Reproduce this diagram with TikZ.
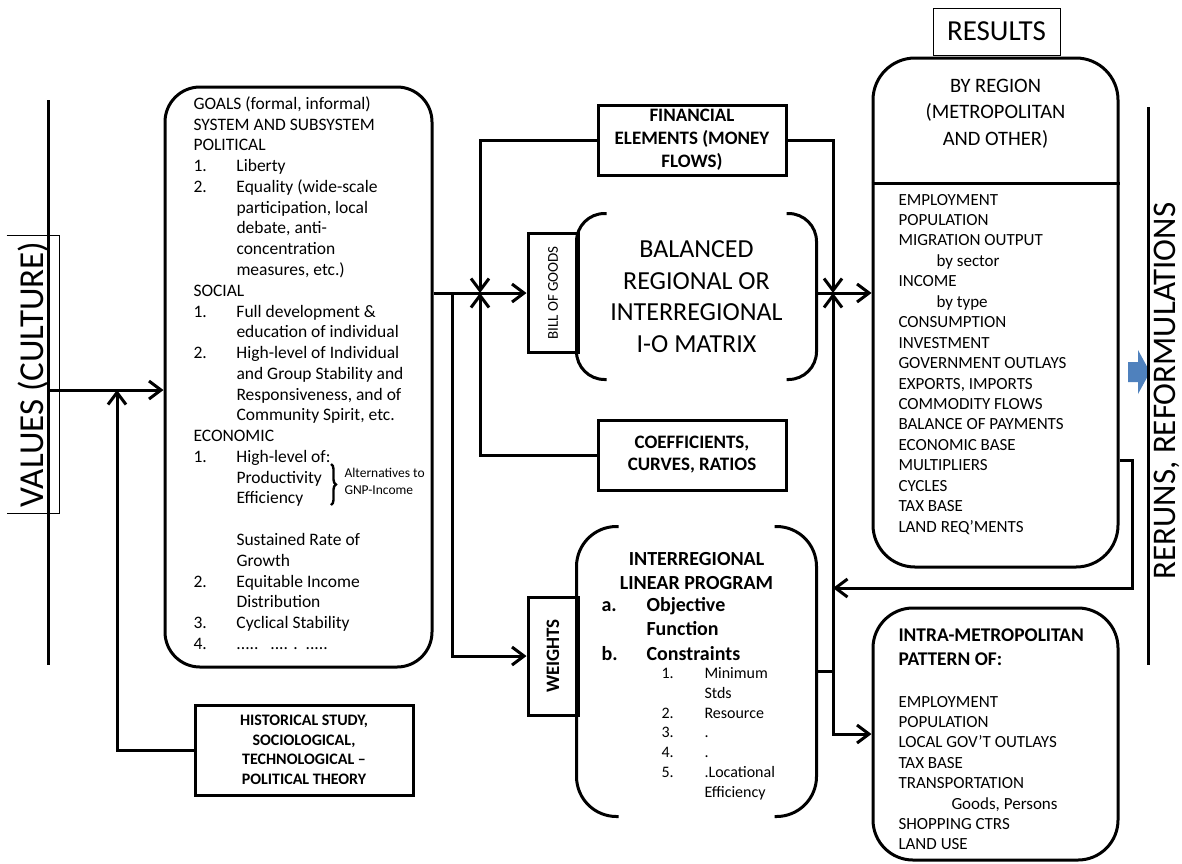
\documentclass[tikz,border=0pt]{standalone}
\usepackage{fontspec}
\setmainfont{Carlito}
\usetikzlibrary{arrows.meta,positioning,calc,decorations.pathreplacing}
\definecolor{rerunblue}{RGB}{79,129,189}
\newcommand{\fsz}[2]{\fontsize{#1}{#2}\selectfont}
\newcommand{\gitem}[2]{\makebox[43pt][l]{#1}#2}
\newcommand{\gind}{\hspace*{43pt}}
\newcommand{\litem}[2]{\makebox[45pt][l]{#1}#2}
\newcommand{\citem}[2]{\makebox[43pt][l]{#1}#2}

\begin{document}
\begin{tikzpicture}[>={Straight Barb[length=12pt,width=18pt]}, x=1pt, y=-1pt, line width=3pt]

    \tikzstyle{flowbox}=[draw, rectangle, inner sep=0pt, align=center]
    \tikzstyle{roundbox}=[flowbox, rounded corners=35pt]
    \tikzstyle{thinbox}=[draw, line width=0.8pt, inner sep=0pt]
    \tikzstyle{txtblock}=[inner sep=0pt, align=left, anchor=north west]

    \useasboundingbox (0,0) rectangle (1182,863);

    % left side: values and goals
    \coordinate (ltop) at (48,100);
    \coordinate (lbot) at (48,665);
    \coordinate (vin)  at (48,390);
    \coordinate (hin)  at (117,390);
    \draw (ltop) -- (lbot);
    \node[inner sep=0pt, minimum width=50, minimum height=275, font=\fsz{35}{40}] (values) at (33,374.5) {\rotatebox{90}{VALUES (CULTURE)}};
    \draw[line width=0.8pt] (values.north west) -- (values.north east) -- (values.south east) -- (values.south west);

    \node[roundbox, minimum width=267, minimum height=580] (goals) at (298.5,377) {};
    \node[txtblock, font=\fsz{17.5}{20.77}] (goalstxt) at (192,95) {GOALS (formal, informal)\\
        SYSTEM AND SUBSYSTEM\\
        POLITICAL\\
        \gitem{1.}{Liberty}\\
        \gitem{2.}{Equality (wide-scale}\\
        \gind participation, local\\
        \gind debate, anti-\\
        \gind concentration\\
        \gind measures, etc.)\\
        SOCIAL\\
        \gitem{1.}{Full development \&}\\
        \gind education of individual\\
        \gitem{2.}{High-level of Individual}\\
        \gind and Group Stability and\\
        \gind Responsiveness, and of\\
        \gind Community Spirit, etc.\\
        ECONOMIC\\
        \gitem{1.}{High-level of:}\\
        \gind Productivity\\
        \gind Efficiency\\
        \mbox{}\\
        \gind Sustained Rate of\\
        \gind Growth\\
        \gitem{2.}{Equitable Income}\\
        \gind Distribution\\
        \gitem{3.}{Cyclical Stability}\\
        \gitem{4.}{.....\ \ \ .... .\ \ .....}};
    \draw[decorate, decoration={brace, amplitude=5pt}, line width=2.4pt] (331,464) -- (331,505);
    \node[txtblock, anchor=west, font=\fsz{13.5}{17}] (alt) at (343,481.5) {Alternatives to\\GNP-Income};

    \node[flowbox, minimum width=218, minimum height=90, font=\bfseries\fsz{16}{19.5}] (hist) at (304,750) {HISTORICAL STUDY,\\SOCIOLOGICAL,\\TECHNOLOGICAL --\\POLITICAL THEORY};

    % middle column
    \node[flowbox, rotate=90, minimum width=119, minimum height=50, font=\fsz{15}{18}] (bill) at (553,293) {BILL OF GOODS};
    \node[flowbox, rotate=90, minimum width=118, minimum height=50, font=\bfseries\fsz{19}{23}] (weights) at (553,656) {WEIGHTS};
    \node[flowbox, minimum width=188, minimum height=70, font=\bfseries\fsz{19}{23}] (fin) at (692,140) {FINANCIAL\\ELEMENTS (MONEY\\FLOWS)};
    \node[flowbox, minimum width=188, minimum height=70, font=\bfseries\fsz{19}{22}] (coef) at (692,455) {COEFFICIENTS,\\CURVES, RATIOS};

    \node[inner sep=0pt, minimum width=237, minimum height=163, align=center, font=\fsz{26}{31.5}] (io) at (696.5,296.5) {BALANCED\\REGIONAL OR\\INTERREGIONAL\\I-O MATRIX};
    \draw[rounded corners=28pt] ([xshift=30pt]io.north west) -- (io.north west) -- (io.south west) -- ([xshift=30pt]io.south west);
    \draw[rounded corners=28pt] ([xshift=-30pt]io.north east) -- (io.north east) -- (io.south east) -- ([xshift=-30pt]io.south east);

    \node[inner sep=0pt, minimum width=237, minimum height=287] (lp) at (696.5,671.5) {};
    \draw[rounded corners=40pt] ([xshift=42pt]lp.north west) -- (lp.north west) -- (lp.south west) -- ([xshift=42pt]lp.south west);
    \draw[rounded corners=40pt] ([xshift=-42pt]lp.north east) -- (lp.north east) -- (lp.south east) -- ([xshift=-42pt]lp.south east);
    \node[inner sep=0pt, align=center, anchor=north, font=\bfseries\fsz{20}{24}] (lptitle) at (696.5,550.5) {INTERREGIONAL\\LINEAR PROGRAM};
    \node[txtblock, font=\bfseries\fsz{20}{24.5}] (lpobj) at (600,595.5) {\litem{a.}{Objective}\\\hspace*{45pt}Function\\\litem{b.}{Constraints}};
    \node[txtblock, font=\fsz{16}{19.8}] (lpcons) at (660,666) {\citem{1.}{Minimum}\\\hspace*{43pt}Stds\\\citem{2.}{Resource}\\\citem{3.}{.}\\\citem{4.}{.}\\\citem{5.}{.Locational}\\\hspace*{43pt}Efficiency};

    % right side: results
    \node[thinbox, minimum width=127, minimum height=47, font=\fsz{29}{35}] (reslabel) at (996.5,31.5) {RESULTS};
    \node[flowbox, rounded corners=42pt, minimum width=245, minimum height=509] (results) at (995.5,312.5) {};
    \draw (results.west |- 0,183) -- (results.east |- 0,183);
    \node[inner sep=0pt, align=center, font=\fsz{20.5}{26.5}] (byregion) at (995.5,113.5) {BY REGION\\(METROPOLITAN\\AND OTHER)};
    \node[txtblock, font=\fsz{17}{20.45}] (reslist) at (897,192.5) {EMPLOYMENT\\POPULATION\\MIGRATION OUTPUT\\\hspace*{38pt}by sector\\INCOME\\\hspace*{38pt}by type\\CONSUMPTION\\INVESTMENT\\GOVERNMENT OUTLAYS\\EXPORTS, IMPORTS\\COMMODITY FLOWS\\BALANCE OF PAYMENTS\\ECONOMIC BASE\\MULTIPLIERS\\CYCLES\\TAX BASE\\LAND REQ’MENTS};

    \node[flowbox, rounded corners=40pt, minimum width=245, minimum height=252] (intra) at (995.5,734) {};
    \node[txtblock, font=\bfseries\fsz{19.4}{24}] (intrahead) at (897,626.8) {INTRA-METROPOLITAN\\PATTERN OF:};
    \node[txtblock, font=\fsz{17}{20.4}] (intralist) at (897,694.5) {EMPLOYMENT\\POPULATION\\LOCAL GOV’T OUTLAYS\\TAX BASE\\TRANSPORTATION\\\hspace*{53pt}Goods, Persons\\SHOPPING CTRS\\LAND USE};

    \coordinate (rtop) at (1148,107);
    \coordinate (rbot) at (1148,665);
    \fill[rerunblue] (1128,362) -- (1138,362) -- (1138,350) -- (1150,372) -- (1138,394) -- (1138,382) -- (1128,382) -- cycle;
    \draw (rtop) -- (rbot);
    \node[rotate=90, inner sep=0pt, font=\fsz{33}{38}] (reruns) at (1167,391) {RERUNS, REFORMULATIONS};

    % connectors
    \coordinate (jl) at (480,293);
    \coordinate (jr) at (833,293);
    \coordinate (split) at (452,293);
    \draw[->] (vin) -- (vin -| goals.west);
    \draw[->] (hist.west) -| (hin);
    \draw[->] (goals.east |- jl) -- (bill.north);
    \draw[->] (split) |- (weights.north);
    \draw[->] (fin.west) -| (jl);
    \draw[->] (coef.west) -| (jl);
    \draw[->] (fin.east) -| (jr);
    \draw[->] (io.east |- jr) -- (results.west |- jr);
    \draw[->] (lp.east) -| (jr);
    \draw[->] (lp.east -| jr) |- (intra.west);
    \draw[->] (results.east |- 0,460) -- ++(13,0) |- (jr |- 0,588);
\end{tikzpicture}
\end{document}
